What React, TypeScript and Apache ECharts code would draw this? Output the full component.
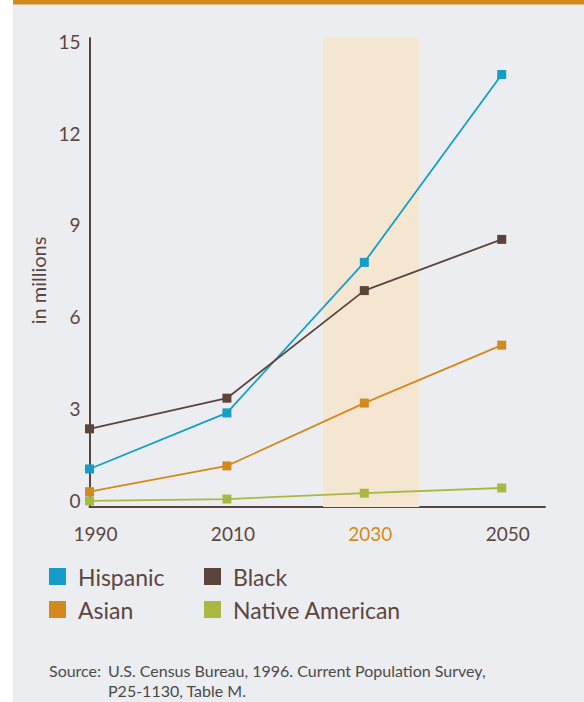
import React, { useEffect, useRef } from "react";
import * as echarts from "echarts";

const years = [1990, 2010, 2030, 2050];
const hispanic = [1.04, 2.87, 7.78, 13.91];
const black = [2.35, 3.35, 6.86, 8.53];
const asian = [0.3, 1.14, 3.19, 5.08];
const nativeAmerican = [0.0, 0.06, 0.25, 0.42];
const yTicks = [0, 3, 6, 9, 12, 15];
const highlightYear = 2030;
const highlightRange = [2024, 2038];
const sourceLines = [
  "Source:",
  "U.S. Census Bureau, 1996. Current Population Survey,",
  "P25-1130, Table M.",
];

const C_HISP = "#139ec9";
const C_BLACK = "#5c433b";
const C_ASIAN = "#d4891d";
const C_NATIVE = "#a8b840";
const C_TEXT = "#5b463f";
const FONT = "Lato";

export default function App() {
  const ref = useRef<HTMLDivElement>(null);
  useEffect(() => {
    if (!ref.current) return;
    const chart = echarts.init(ref.current, null, { renderer: "svg" });
    const pair = (arr: number[]) => years.map((y, i) => [y, arr[i]]);
    const mk = (name: string, color: string, data: number[], extra: any = {}) => ({
      name,
      type: "line",
      data: pair(data),
      symbol: "rect",
      symbolSize: 9,
      lineStyle: { color, width: 1.8 },
      itemStyle: { color },
      ...extra,
    });
    const legendBase = {
      orient: "vertical",
      top: 565,
      padding: 0,
      itemWidth: 17,
      itemHeight: 17,
      itemGap: 10,
      icon: "rect",
      textStyle: {
        fontSize: 23,
        lineHeight: 23,
        color: C_TEXT,
        fontFamily: FONT,
        padding: [0, 0, 0, 7],
      },
    };
    const src = { fontSize: 16, fontFamily: FONT, fill: "#4a4a4a" };
    chart.setOption({
      animation: false,
      textStyle: { fontFamily: FONT },
      graphic: [
        {
          type: "rect",
          silent: true,
          z: -100,
          shape: { x: 13, y: 0, width: 571, height: 702 },
          style: { fill: "#ecedf0" },
        },
        {
          type: "rect",
          silent: true,
          z: -99,
          shape: { x: 13, y: 0, width: 571, height: 4.5 },
          style: { fill: "#d4891d" },
        },
        { type: "text", left: 49, top: 662, style: { ...src, text: sourceLines[0] } },
        { type: "text", left: 108, top: 662, style: { ...src, text: sourceLines[1] } },
        { type: "text", left: 108, top: 682, style: { ...src, text: sourceLines[2] } },
      ],
      legend: [
        { ...legendBase, left: 49, data: ["Hispanic", "Asian"] },
        { ...legendBase, left: 204, data: ["Black", "Native American"] },
      ],
      grid: { left: 89.5, right: 39, top: 38, bottom: 195, containLabel: false },
      xAxis: {
        type: "value",
        min: 1990,
        max: 2056.3,
        splitLine: { show: false },
        axisTick: { show: false },
        axisLine: { onZero: false, lineStyle: { color: C_BLACK, width: 2 } },
        axisLabel: {
          customValues: years,
          margin: 17,
          padding: [0, 0, 0, 12],
          formatter: (v: number) => (v === highlightYear ? `{h|${v}}` : `{n|${v}}`),
          rich: {
            n: { fontSize: 19, color: C_TEXT, fontFamily: FONT },
            h: { fontSize: 19, color: "#d4891d", fontFamily: FONT },
          },
        },
      },
      yAxis: {
        type: "value",
        min: -0.2,
        max: 15.1,
        splitLine: { show: false },
        axisTick: { show: false },
        axisLine: { show: true, onZero: false, lineStyle: { color: C_BLACK, width: 2 } },
        axisLabel: {
          customValues: yTicks,
          margin: 9,
          fontSize: 19,
          color: C_TEXT,
          fontFamily: FONT,
          formatter: (v: number) => String(v),
        },
        name: "in millions",
        nameLocation: "middle",
        nameRotate: 90,
        nameGap: 42,
        nameTextStyle: { fontSize: 20, color: C_TEXT, fontFamily: FONT, padding: [0, 16, 0, 0] },
      },
      series: [
        mk("Hispanic", C_HISP, hispanic, {
          markArea: {
            silent: true,
            itemStyle: { color: "#f5e6d1" },
            data: [[{ xAxis: highlightRange[0] }, { xAxis: highlightRange[1] }]],
          },
        }),
        mk("Black", C_BLACK, black),
        mk("Asian", C_ASIAN, asian),
        mk("Native American", C_NATIVE, nativeAmerican),
      ],
    });
    return () => chart.dispose();
  }, []);
  return (
    <div
      ref={ref}
      style={{ position: "fixed", left: 0, top: 0, width: 584, height: 702, background: "#fff" }}
    />
  );
}
